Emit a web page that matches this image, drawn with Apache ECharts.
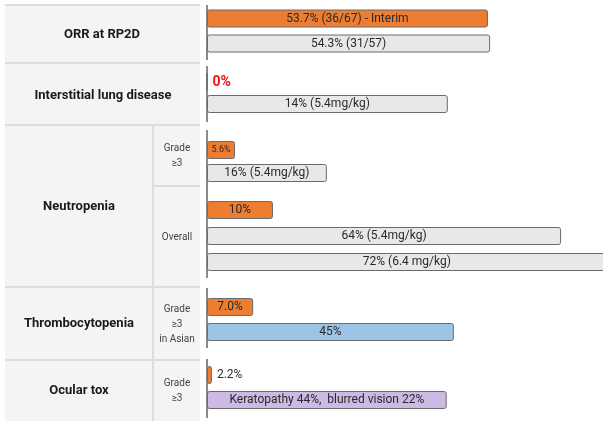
<!DOCTYPE html>
<html lang="en">
<head>
    <meta charset="UTF-8">
    <script src="https://cdn.jsdelivr.net/npm/echarts@6/dist/echarts.min.js"></script>
    <title>Safety and efficacy</title>
    <style>
        html, body { margin: 0; padding: 0; background: #fff; overflow: hidden; }
        /* a little wider than the window so the longest bar runs off the edge */
        #main { width: 610px; height: 421px; }
    </style>
</head>
<body>
<div id="main"></div>
<script>
// row groups on the left (main label, sub labels)
var groupNames = ['ORR at RP2D', 'Interstitial lung disease', 'Neutropenia', 'Thrombocytopenia', 'Ocular tox'];
var subNames = ['Grade\n≥3', 'Overall', 'Grade\n≥3\nin Asian', 'Grade\n≥3'];

// one entry per bar, top to bottom
var barText = [
    '53.7% (36/67) - Interim', '54.3% (31/57)',
    '0%', '14% (5.4mg/kg)',
    '5.6%', '16% (5.4mg/kg)',
    '10%', '64% (5.4mg/kg)', '72% (6.4 mg/kg)',
    '7.0%', '45%',
    '2.2%', 'Keratopathy 44%,  blurred vision 22%'
];
// bar lengths as drawn in the picture (the picture is not to scale)
var barLength = [51.1, 51.5, 0, 43.8, 5.1, 21.8, 12, 64.4, 72.7, 8.4, 44.9, 0.9, 43.6];
var barKind = ['new', 'old', 'new', 'old', 'new', 'old', 'new', 'old', 'old', 'new', 'asian', 'new', 'ocular'];
// which block each bar sits in
var barBlock = [0, 0, 1, 1, 2, 2, 3, 3, 3, 4, 4, 5, 5];

var fills = { new: '#ED7D31', old: '#E8E8E8', asian: '#9DC3E6', ocular: '#CDB9E3' };

// block layout: top / height of each bar block
var blocks = [
    { top: 6, height: 50 },
    { top: 71, height: 44 },
    { top: 138.5, height: 46 },
    { top: 197, height: 78 },
    { top: 294.5, height: 50 },
    { top: 362.5, height: 50 }
];

var chart = echarts.init(document.getElementById('main'));
var font = 'Roboto, "Liberation Sans", sans-serif';

var grids = [], xAxes = [], yAxes = [], series = [];
blocks.forEach(function (b, bi) {
    // about 5.5px per unit
    grids.push({ left: 207, right: 0, top: b.top, height: b.height });
    xAxes.push({ type: 'value', gridIndex: bi, min: 0, max: 73.3, show: false });
    var cats = [], items = [];
    barText.forEach(function (t, i) {
        if (barBlock[i] !== bi) return;
        cats.push('r' + i);
        var item = {
            value: barLength[i],
            itemStyle: { color: fills[barKind[i]] },
            label: {}
        };
        if (t === '0%') {
            item.label = { position: 'right', distance: 5, color: '#F01010', fontWeight: 'bold', fontSize: 14 };
        } else if (t === '2.2%') {
            item.label = { position: 'right', distance: 5, fontSize: 12 };
        } else if (t === '5.6%') {
            item.label = { fontSize: 9 };
        }
        items.push(item);
    });
    yAxes.push({ type: 'category', gridIndex: bi, inverse: true, data: cats, show: false });
    series.push({
        type: 'bar',
        xAxisIndex: bi,
        yAxisIndex: bi,
        barWidth: 18,
        silent: true,
        itemStyle: { borderColor: '#6B6B6B', borderWidth: 1, borderRadius: 2 },
        label: {
            show: true,
            position: 'inside',
            color: '#2A2A2A',
            fontFamily: font,
            fontSize: 12,
            formatter: function (p) { return barText[+p.name.slice(1)]; }
        },
        data: items
    });
});

// left table
var lineColor = '#DDDDDD';
var graphic = [
    { type: 'rect', shape: { x: 5, y: 5, width: 195, height: 416 }, style: { fill: '#F4F4F4' } }
];
[5, 63, 125, 287, 360].forEach(function (y) {
    graphic.push({ type: 'line', shape: { x1: 5, y1: y, x2: 200, y2: y }, style: { stroke: lineColor, lineWidth: 2 } });
});
graphic.push({ type: 'line', shape: { x1: 153, y1: 125, x2: 153, y2: 421 }, style: { stroke: lineColor, lineWidth: 2 } });
graphic.push({ type: 'line', shape: { x1: 153, y1: 186, x2: 200, y2: 186 }, style: { stroke: lineColor, lineWidth: 2 } });

// vertical rules beside the bars
[[5, 60], [66, 122], [130, 278], [288, 348], [359, 418]].forEach(function (s) {
    graphic.push({ type: 'line', shape: { x1: 207, y1: s[0], x2: 207, y2: s[1] }, style: { stroke: '#8A8A8A', lineWidth: 2 } });
});

var groupPos = [[102, 35], [103, 96], [79, 207], [79, 324], [79, 391]];
groupNames.forEach(function (n, i) {
    graphic.push({
        type: 'text', x: groupPos[i][0], y: groupPos[i][1],
        style: { text: n, fill: '#1A1A1A', font: 'bold 13px ' + font, align: 'center', verticalAlign: 'middle' }
    });
});
var subPos = [156, 237, 324, 391];
subNames.forEach(function (n, i) {
    graphic.push({
        type: 'text', x: 177, y: subPos[i],
        style: { text: n, fill: '#444', font: '10px ' + font, align: 'center', verticalAlign: 'middle', lineHeight: 15 }
    });
});

chart.setOption({
    animation: false,
    grid: grids,
    xAxis: xAxes,
    yAxis: yAxes,
    series: series,
    graphic: graphic
});
</script>
</body>
</html>
